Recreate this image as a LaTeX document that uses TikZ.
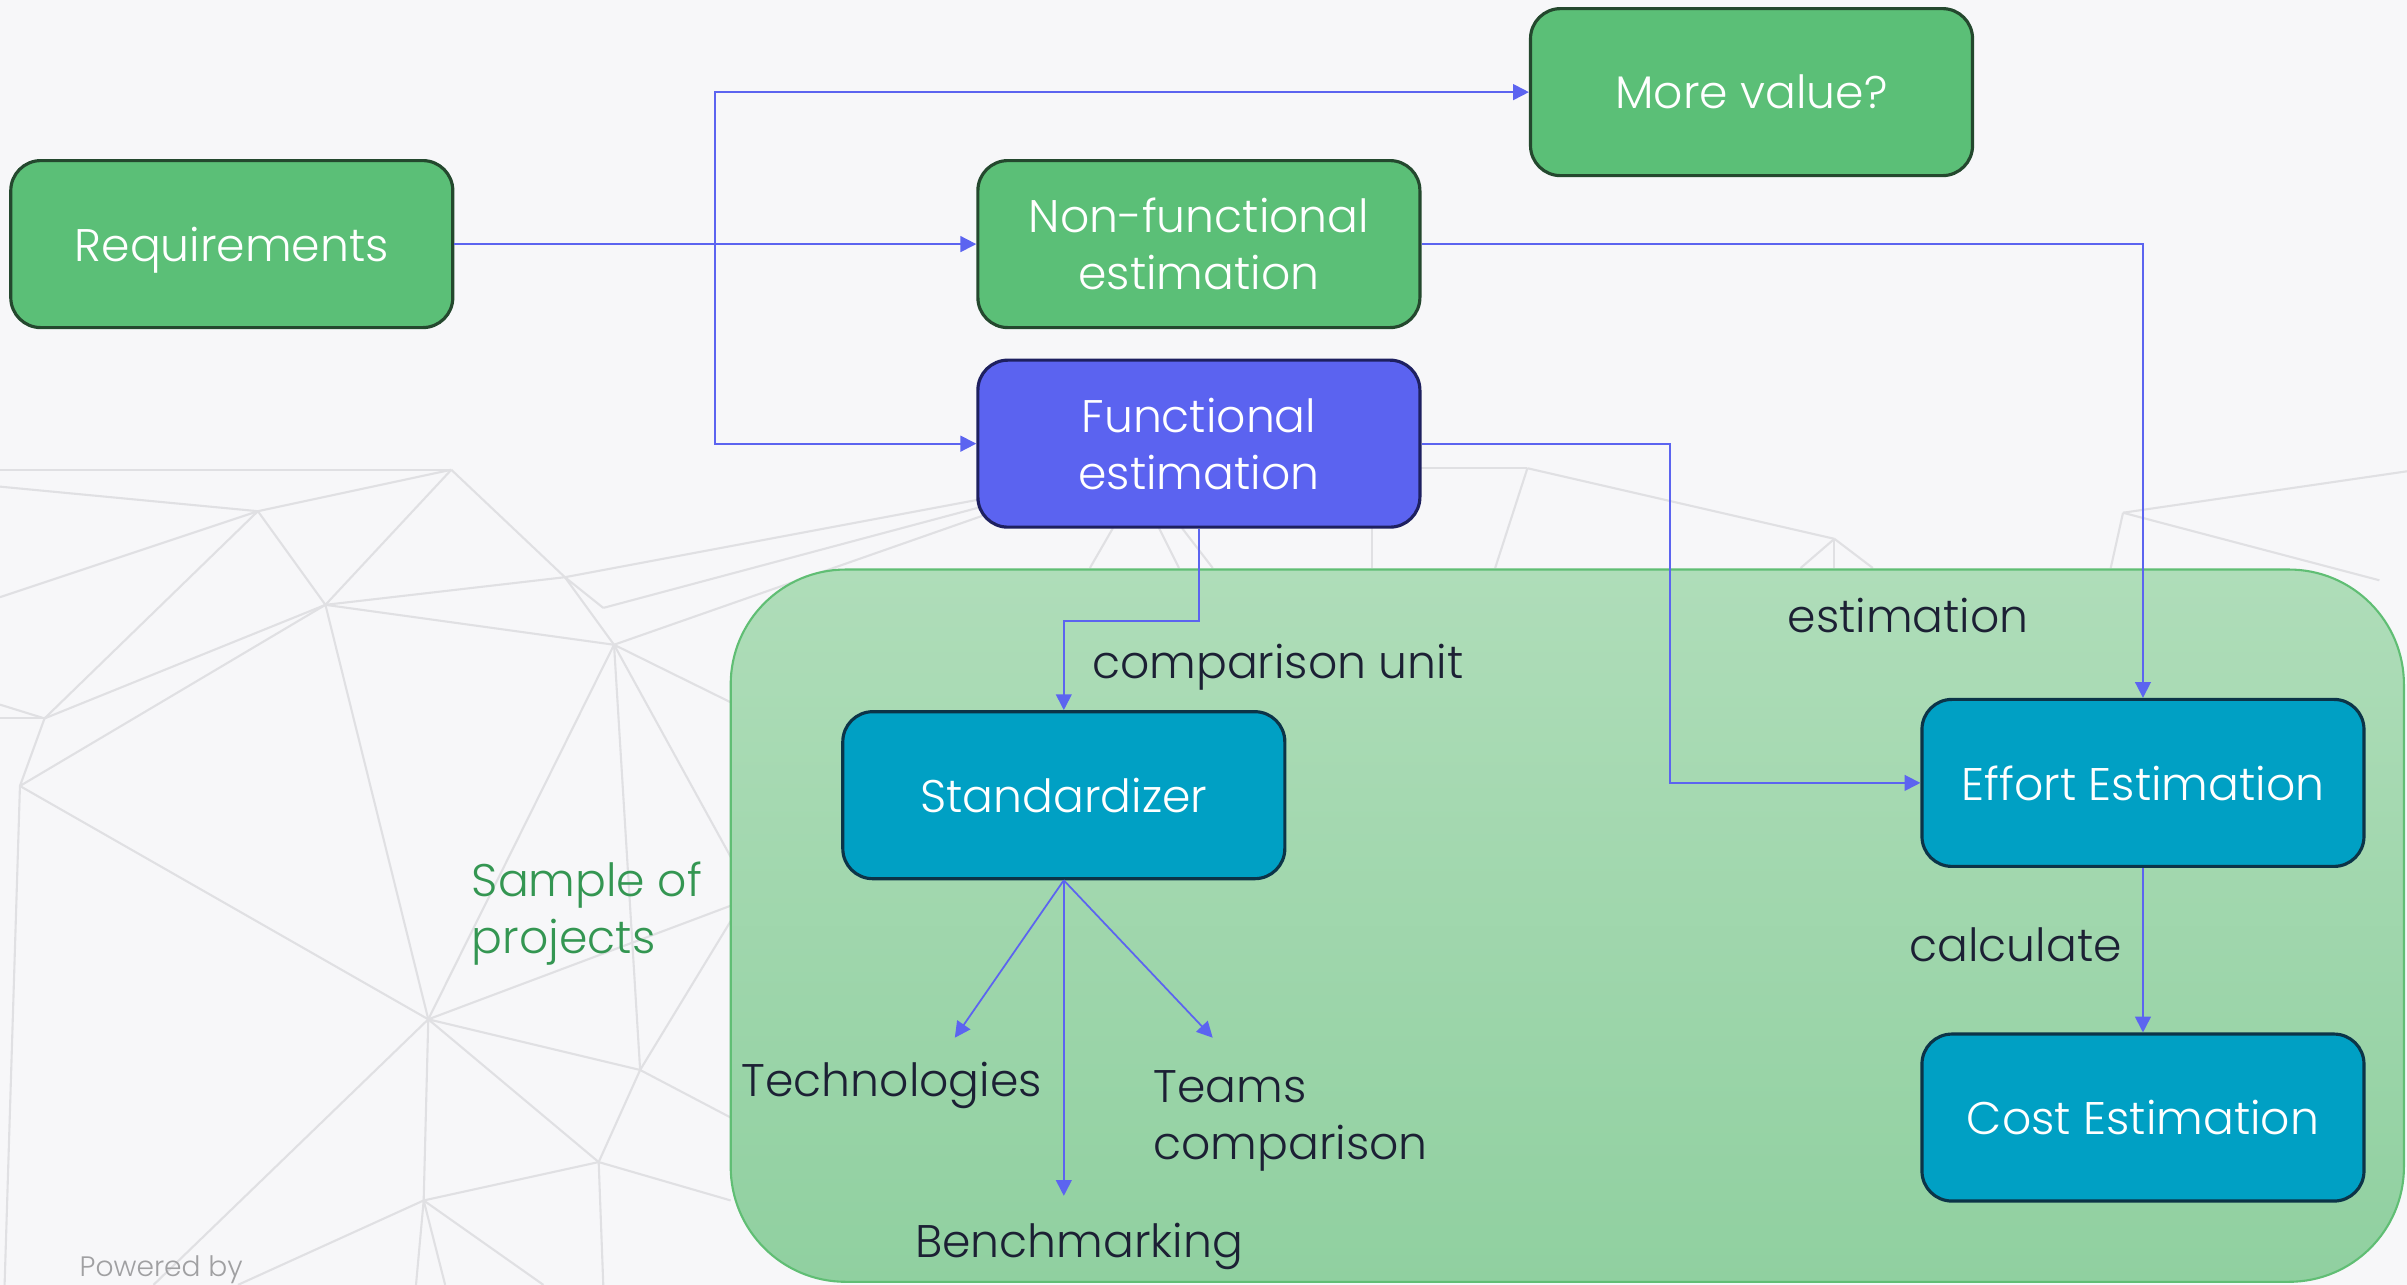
\documentclass[tikz,border=0pt]{standalone}
\usepackage{fontspec}
\IfFontExistsTF{Poppins Light}{\setmainfont{Poppins Light}}{\setmainfont{Poppins}}
\usetikzlibrary{arrows.meta}
\definecolor{bg}{RGB}{247,247,249}
\definecolor{meshgray}{RGB}{224,224,227}
\definecolor{boxgreen}{RGB}{91,191,119}
\definecolor{boxgreenline}{RGB}{36,72,46}
\definecolor{boxblue}{RGB}{91,99,240}
\definecolor{boxblueline}{RGB}{30,32,96}
\definecolor{boxteal}{RGB}{0,160,196}
\definecolor{boxtealline}{RGB}{12,52,72}
\definecolor{arrowblue}{RGB}{92,100,240}
\definecolor{regiontop}{RGB}{175,221,185}
\definecolor{regionbot}{RGB}{144,208,160}
\definecolor{regionline}{RGB}{96,190,116}
\definecolor{labelink}{RGB}{28,32,52}
\definecolor{samplegreen}{RGB}{52,150,82}
\definecolor{powergray}{RGB}{160,160,162}
\newcommand\boxfont{\fontsize{13}{16.2}\selectfont}
\begin{document}
\begin{tikzpicture}[x=0.01535cm,y=-0.01535cm,
  box/.style={draw,rounded corners=0.3cm,minimum width=4.42cm,minimum height=1.67cm,
    line width=0.9pt,text=white,align=center,font=\boxfont},
  greenbox/.style={box,fill=boxgreen,draw=boxgreenline},
  bluebox/.style={box,fill=boxblue,draw=boxblueline},
  tealbox/.style={box,fill=boxteal,draw=boxtealline},
  arr/.style={draw=arrowblue,line width=0.5pt,-{Triangle[length=4.5pt,width=4.5pt]},arrowblue},
  lbl/.style={text=labelink,font=\boxfont,align=left,inner sep=0pt,text depth=0pt},
  mesh/.style={meshgray,line width=0.6pt}]
\useasboundingbox (0,0) rectangle (1568,837);
\fill[bg] (0,0) rectangle (1568,837);
% background mesh
\foreach \x/\y/\u/\v in {0/306/294/306, 0/317/168/333, 168/333/294/306, 0/389/168/333,
  168/333/212/394, 168/333/29/468, 294/306/212/394, 294/306/368/376, 368/376/400/420,
  212/394/368/376, 368/376/640/325, 393/396/368/376, 393/396/640/330, 212/394/400/420,
  400/420/640/336, 400/420/477/458, 212/394/29/468, 212/394/13/512, 0/459/29/468,
  0/468/29/468, 29/468/13/512, 13/512/3/837, 13/512/279/664, 212/394/279/664,
  400/420/279/664, 400/420/417/697, 400/420/477/560, 279/664/476/590, 279/664/417/697,
  279/664/390/757, 279/664/276/782, 279/664/100/837, 417/697/390/757, 417/697/476/728,
  417/697/476/600, 390/757/276/782, 390/757/476/782, 390/757/393/837, 276/782/271/837,
  276/782/290/837, 276/782/354/837, 276/782/155/837, 710/370/725/344, 755/344/768/370,
  770/344/790/370, 894/344/894/370, 924/305/995/305, 995/305/974/370, 995/305/1195/351,
  1195/351/1173/370, 1195/351/1195/370, 1195/351/1220/370, 1383/334/1568/307,
  1383/334/1375/370, 1383/334/1550/378}
  \draw[mesh] (\x,\y) -- (\u,\v);
% sample region
\draw[rounded corners=1.15cm,top color=regiontop,bottom color=regionbot,draw=regionline,line width=0.6pt]
  (476,371) rectangle (1566,835);
% boxes
\node[greenbox,text depth=0pt] (req) at (151,159) {Requirements};
\node[greenbox] (nonf) at (781,159) {Non-functional\\estimation};
\node[bluebox] (func) at (781,289) {Functional\\estimation};
\node[greenbox] (more) at (1141,60) {More value?};
\node[tealbox] (std) at (693,518) {Standardizer};
\node[tealbox] (eff) at (1396,510) {Effort Estimation};
\node[tealbox] (cost) at (1396,728) {Cost Estimation};
% texts
\node[lbl,anchor=west] (unit) at (711,431) {comparison unit};
\node[lbl] (estim) at (1243,401) {estimation};
\node[lbl] (calc) at (1313,615) {calculate};
\node[lbl] (tech) at (581,703) {Technologies};
\node[lbl,anchor=north west] (teams) at (751,697) {Teams\\comparison};
\node[lbl] (bench) at (703,808) {Benchmarking};
\node[lbl,anchor=west,text=samplegreen] (sample) at (307,591) {Sample of\\projects};
\node[text=powergray,font=\fontsize{8}{10}\selectfont,inner sep=0pt,text depth=0pt] (power) at (105,825) {Powered by};
% connectors
\coordinate (split) at (466,159);
\coordinate (turn) at (1088,289);
\coordinate (techend) at (622,676);
\coordinate (teamsend) at (790,676);
\draw[arr] (req) -- (nonf);
\draw[arr] (split) |- (more);
\draw[arr] (split) |- (func);
\draw[arr] (nonf) -| (eff);
\draw[arr] (func) -- (turn) |- (eff);
\draw[arr] (func.south) -- ++(0,60) -| (std);
\draw[arr] (std.south) -- (techend);
\draw[arr] (std.south) -- (teamsend);
\draw[arr] (std.south) -- (std.south |- 0,779);
\draw[arr] (eff) -- (cost);
\end{tikzpicture}
\end{document}
